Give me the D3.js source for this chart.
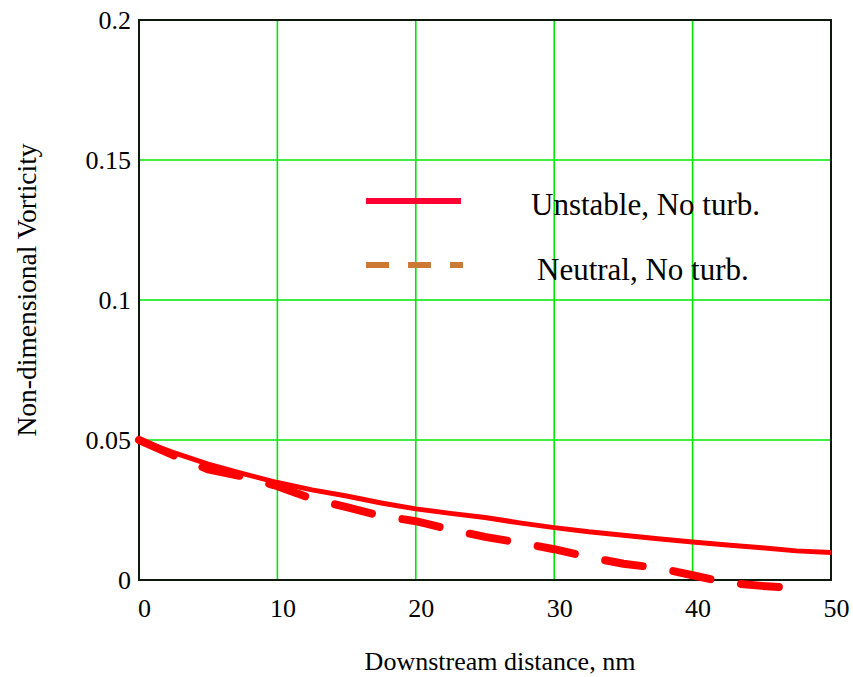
<!DOCTYPE html>
<html>
<head>
<meta charset="utf-8">
<script src="https://cdn.jsdelivr.net/npm/d3@7"></script>
<style>
  body { margin: 0; background: #fff; }
</style>
</head>
<body>
<div id="wrapper"></div>
<script>
// values
const xTicks = [0, 10, 20, 30, 40, 50]
const yTicks = [0, 0.05, 0.1, 0.15, 0.2]
const yTickLabels = ["0", "0.05", "0.1", "0.15", "0.2"]

const unstableX = [0, 2.5, 5, 7.5, 10, 12.5, 15, 17.5, 20, 22.5, 25, 27.5, 30, 32.5, 35, 37.5, 40, 42.5, 45, 47.5, 50]
const unstableY = [0.05, 0.0455, 0.0414, 0.038, 0.0348, 0.0322, 0.0300, 0.0275, 0.0254, 0.0238, 0.0223, 0.0204, 0.0187, 0.0172, 0.016, 0.0147, 0.0136, 0.0125, 0.0115, 0.0104, 0.0098]

const neutralX = [0, 2.5, 5, 7.5, 10, 12.5, 15, 17.5, 20, 22.5, 25, 27.5, 30, 32.5, 35, 37.5, 40, 42.5, 45, 47.3]
const neutralY = [0.05, 0.0445, 0.0395, 0.037, 0.0335, 0.029, 0.026, 0.0229, 0.021, 0.018, 0.0154, 0.0133, 0.011, 0.0082, 0.0058, 0.0043, 0.0017, -0.001, -0.0021, -0.0029]

const legendLabels = ["Unstable, No turb.", "Neutral, No turb."]

const serif = '"Liberation Serif", "DejaVu Serif", serif'

const renderGraph = () => {
  const dimensions = {
    width: 853,
    height: 677,
    margins: { top: 20, right: 22, bottom: 97, left: 139 },
  }
  dimensions.boundedWidth = dimensions.width - dimensions.margins.left - dimensions.margins.right
  dimensions.boundedHeight = dimensions.height - dimensions.margins.top - dimensions.margins.bottom

  const svg = d3.select("#wrapper").append("svg")
    .attr("width", dimensions.width)
    .attr("height", dimensions.height)
    .style("font-family", serif)

  const bounds = svg.append("g")
    .attr("transform", `translate(${dimensions.margins.left},${dimensions.margins.top})`)

  // scales
  const xScale = d3.scaleLinear().domain([0, 50]).range([0, dimensions.boundedWidth])
  const yScale = d3.scaleLinear().domain([0, 0.2]).range([dimensions.boundedHeight, 0])

  // grid
  bounds.append("g").selectAll("line")
    .data(xTicks.slice(1, -1))
    .join("line")
    .attr("x1", d => xScale(d)).attr("x2", d => xScale(d))
    .attr("y1", 0).attr("y2", dimensions.boundedHeight)
    .attr("stroke", "#00e600").attr("stroke-width", 1.6)
  bounds.append("g").selectAll("line")
    .data(yTicks.slice(1, -1))
    .join("line")
    .attr("y1", d => yScale(d)).attr("y2", d => yScale(d))
    .attr("x1", 0).attr("x2", dimensions.boundedWidth)
    .attr("stroke", "#00e600").attr("stroke-width", 1.6)

  // axes (labels only)
  const xAxis = bounds.append("g")
    .attr("transform", `translate(5,${dimensions.boundedHeight})`)
    .call(d3.axisBottom(xScale).tickValues(xTicks).tickSize(0).tickPadding(19).tickFormat(d3.format("d")))
  xAxis.attr("font-family", null).attr("font-size", null)
  xAxis.select(".domain").remove()
  xAxis.selectAll("text")
    .style("font-family", serif).style("font-size", "26px").attr("fill", "#000").attr("dy", "0.71em")

  const yAxis = bounds.append("g")
    .attr("transform", "translate(-6,0)")
    .call(d3.axisLeft(yScale).tickValues(yTicks).tickSize(0).tickPadding(2)
      .tickFormat((d, i) => yTickLabels[i]))
  yAxis.attr("font-family", null).attr("font-size", null)
  yAxis.select(".domain").remove()
  yAxis.selectAll("text")
    .style("font-family", serif).style("font-size", "26px").attr("fill", "#000")

  // frame
  bounds.append("rect")
    .attr("width", dimensions.boundedWidth)
    .attr("height", dimensions.boundedHeight)
    .attr("fill", "none")
    .attr("stroke", "#0c1a0c")
    .attr("stroke-width", 2)

  // lines
  const line = d3.line().x(d => xScale(d[0])).y(d => yScale(d[1]))

  bounds.append("path")
    .attr("d", line(neutralX.map((x, i) => [x, neutralY[i]])))
    .attr("fill", "none")
    .attr("stroke", "#ff0000")
    .attr("stroke-width", 8)
    .attr("stroke-linecap", "round")
    .attr("stroke-dasharray", "38,31")

  bounds.append("path")
    .attr("d", line(unstableX.map((x, i) => [x, unstableY[i]])))
    .attr("fill", "none")
    .attr("stroke", "#ff0000")
    .attr("stroke-width", 5)

  // legend
  const legend = svg.append("g")
  legend.append("line")
    .attr("x1", 366).attr("x2", 461).attr("y1", 201).attr("y2", 201)
    .attr("stroke", "#ff0033").attr("stroke-width", 6)
  legend.append("line")
    .attr("x1", 366).attr("x2", 463).attr("y1", 265).attr("y2", 265)
    .attr("stroke", "#cc7a33").attr("stroke-width", 6)
    .attr("stroke-dasharray", "23,19")
  legend.selectAll("text")
    .data(legendLabels)
    .join("text")
    .attr("x", (d, i) => i === 0 ? 531 : 537)
    .attr("y", (d, i) => i === 0 ? 215 : 280)
    .style("font-size", "31px")
    .text(d => d)

  // axis titles
  svg.append("text")
    .attr("x", 500).attr("y", 670)
    .attr("text-anchor", "middle")
    .style("font-size", "26px")
    .text("Downstream distance, nm")
  svg.append("text")
    .attr("transform", "translate(36,290) rotate(-90)")
    .attr("text-anchor", "middle")
    .style("font-size", "27.5px")
    .text("Non-dimensional Vorticity")
}

renderGraph()
</script>
</body>
</html>
